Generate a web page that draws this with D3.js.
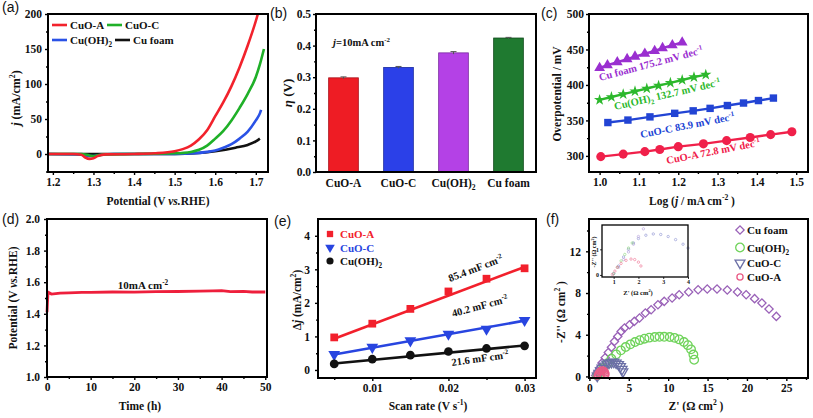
<!DOCTYPE html>
<html><head><meta charset="utf-8">
<script src="https://cdn.jsdelivr.net/npm/d3@7"></script>
<style>body{margin:0;background:#fff}svg{display:block}</style>
</head><body>
<script>
// ================= DATA =================
// (a) polarisation curves
const lsvPotCuOA = [1.19,1.25,1.27,1.28,1.29,1.30,1.31,1.33,1.40,1.45,1.50,1.52,1.54,1.56,1.58,1.60,1.62,1.64,1.66,1.68,1.70,1.705];
const lsvJCuOA   = [0,0,-1,-5,-7,-6,-3,-0.5,0,1,4,7,12,21,34,54,74,97,124,155,190,200];
const lsvPotCuOC = [1.19,1.27,1.29,1.30,1.31,1.33,1.40,1.50,1.54,1.56,1.58,1.60,1.62,1.64,1.66,1.68,1.70,1.71,1.72];
const lsvJCuOC   = [0,0,-2,-3,-2,-0.5,0,1,3,6,12,22,33,48,66,86,110,128,150];
const lsvPotCuOH = [1.19,1.27,1.29,1.30,1.32,1.35,1.50,1.55,1.58,1.60,1.62,1.64,1.66,1.68,1.70,1.71,1.713];
const lsvJCuOH   = [0,-1,-3,-3,-1,0,0,1,3,5,9,14,22,32,48,58,63];
const lsvPotFoam = [1.19,1.50,1.55,1.60,1.65,1.68,1.70,1.71];
const lsvJFoam   = [0,0,1,4,9,13,18,22];
const lsvXTicks = [1.2,1.3,1.4,1.5,1.6,1.7];
const lsvYTicks = [0,50,100,150,200];

// (b) overpotential bars
const barCats = ["CuO-A","CuO-C","Cu(OH)2","Cu foam"];
const barEta  = [0.298,0.331,0.377,0.424];
const barErr  = [0.003,0.003,0.004,0.002];
const barYTicks = [0,0.1,0.2,0.3,0.4,0.5];

// (c) Tafel
const tafCuOAx = [1.003,1.06,1.115,1.153,1.20,1.264,1.323,1.383,1.435,1.489];
const tafCuOAy = [299,302.5,306,309,313,317,321.5,326,330,334];
const tafCuOCx = [1.021,1.072,1.128,1.191,1.238,1.281,1.325,1.366,1.404,1.442];
const tafCuOCy = [347,350.5,355,360,363.5,367,371,374.5,378,381.5];
const tafCuOHx = [1.0,1.03,1.06,1.09,1.12,1.15,1.18,1.21,1.24,1.27];
const tafCuOHy = [379,383,387,391,395,399,403,407,411,414.5];
const tafFoamx = [1.0,1.02,1.045,1.07,1.09,1.115,1.14,1.16,1.185,1.21];
const tafFoamy = [424,428,432,436.5,440,444,448,452,456,460];
const tafLabels = ["Cu foam 175.2  mV dec^{-1}","Cu(OH)_{2} 132.7 mV dec^{-1}","CuO-C 83.9 mV dec^{-1}","CuO-A 72.8  mV dec^{-1}"];
const tafXTicks = [1.0,1.1,1.2,1.3,1.4,1.5];
const tafYTicks = [300,350,400,450,500];

// (d) stability
const stabT = [0,0.1,0.2,0.4,0.7,1,2,3,5,8,10,15,20,25,30,35,38,40,42,45,47,50];
const stabV = [1.41,1.47,1.52,1.535,1.53,1.525,1.528,1.531,1.533,1.535,1.536,1.538,1.537,1.540,1.541,1.543,1.545,1.546,1.540,1.542,1.538,1.538];
const stabXTicks = [0,10,20,30,40,50];
const stabYTicks = [1.0,1.2,1.4,1.6,1.8,2.0];

// (e) double-layer capacitance
const scanRate = [0.005,0.01,0.015,0.02,0.025,0.03];
const djCuOA = [0.97,1.38,1.82,2.34,2.72,3.03];
const djCuOC = [0.46,0.68,0.87,1.07,1.22,1.48];
const djCuOH = [0.18,0.32,0.44,0.55,0.64,0.72];
const fitX = [0.005,0.03];
const fitCuOA = [0.93,3.07];
const fitCuOC = [0.46,1.47];
const fitCuOH = [0.19,0.73];
const cdlLabels = ["85.4 mF cm^{-2}","40.2 mF cm^{-2}","21.6 mF cm^{-2}"];
const cdlXTicks = [0.01,0.02,0.03];
const cdlYTicks = [0,1,2,3,4];

// (f) Nyquist
const nyFoamRe = [0.8,1.0,1.3,1.6,2.0,2.4,2.8,3.18,3.6,4.03,4.45,5.1,5.7,6.36,7.1,7.84,8.7,9.5,10.5,11.4,12.6,13.8,14.96,16.2,17.5,18.8,19.9,20.97,21.9,22.8,23.73];
const nyFoamIm = [0.1,0.4,0.8,1.3,1.8,2.3,2.8,3.36,3.84,4.32,4.64,4.96,5.28,5.6,6.08,6.4,6.88,7.2,7.52,7.84,8.1,8.32,8.39,8.39,8.29,8.1,7.84,7.46,7.04,6.47,5.76];
const nyCuOHRe = [1.0,1.4,1.8,2.3,2.8,3.4,4.0,4.6,5.2,5.8,6.4,7.0,7.6,8.3,8.9,9.5,10.2,10.8,11.4,12.0,12.5,12.9,13.2,13.3];
const nyCuOHIm = [0.1,0.4,0.8,1.25,1.7,2.12,2.5,2.82,3.08,3.3,3.48,3.62,3.72,3.78,3.8,3.8,3.78,3.7,3.55,3.3,3.0,2.6,2.1,1.6];
const nyCuOCRe = [1.0,1.2,1.4,1.6,1.9,2.2,2.5,2.8,3.1,3.4,3.7,3.95,4.15,4.25];
const nyCuOCIm = [0.05,0.3,0.55,0.8,1.0,1.2,1.3,1.37,1.38,1.3,1.15,0.95,0.7,0.45];
const nyCuOARe = [1.0,1.1,1.25,1.4,1.6,1.8,1.95,2.05,2.1];
const nyCuOAIm = [0.05,0.25,0.42,0.55,0.62,0.6,0.5,0.35,0.2];
const insFoamRe = [1.0,1.2,1.4,1.6,1.8,2.0,2.2];
const insFoamIm = [0.05,0.3,0.6,0.9,1.2,1.5,1.8];
const insCuOHRe = [1.0,1.15,1.3,1.45,1.6,1.75];
const insCuOHIm = [0.05,0.3,0.55,0.8,1.05,1.25];
const insCuOCRe = [1.0,1.2,1.4,1.6,1.8,2.0,2.3,2.6,2.9,3.2,3.5,3.8,4.0];
const insCuOCIm = [0.05,0.35,0.7,1.0,1.25,1.42,1.55,1.6,1.58,1.5,1.38,1.2,1.05];
const insCuOARe = [0.95,1.05,1.15,1.3,1.5,1.7,1.85,2.0,2.1];
const insCuOAIm = [0.02,0.15,0.3,0.45,0.57,0.62,0.6,0.5,0.35];
const nyXTicks = [0,5,10,15,20,25];
const nyYTicks = [0,4,8,12];

// ================= DRAWING =================
const SERIF = "'Liberation Serif','Times New Roman',serif";
const SANS = "'Liberation Sans',Arial,sans-serif";
const svg = d3.select('body').append('svg').attr('width',813).attr('height',418);
svg.append('rect').attr('width',813).attr('height',418).attr('fill','#fff');

function rich(t, s, fs){
  t.text(null);
  const re = /([_^])\{([^}]*)\}|\*([^*]+)\*/g;
  let last=0, m, shift=0;
  const plain = (txt, italic) => { const ts=t.append('tspan').text(txt); if(italic) ts.attr('font-style','italic'); if(shift){ts.attr('dy',-shift); shift=0;} };
  while((m=re.exec(s))){
    if(m.index>last) plain(s.slice(last,m.index));
    if(m[3]!==undefined) plain(m[3], true);
    else { const d = m[1]==='^' ? -fs*0.4 : fs*0.28; t.append('tspan').text(m[2]).attr('font-size',fs*0.66).attr('dy', d-shift); shift=d; }
    last = re.lastIndex;
  }
  if(last<s.length) plain(s.slice(last));
}
function label(x,y,s,o={}){
  const fs=o.fs||12;
  const t=svg.append('text').attr('transform',`translate(${x},${y}) rotate(${o.rot||0})`)
    .attr('text-anchor',o.anchor||'middle').attr('font-family',o.family||SERIF)
    .attr('font-weight',o.weight||'bold').attr('font-size',fs).attr('fill',o.fill||'#111');
  rich(t,s,fs); return t;
}
function axes(box,x,y,o){
  const g=svg.append('g');
  if(o.xt){
    g.append('g').attr('transform',`translate(0,${box.y1})`)
     .call(d3.axisBottom(x).tickValues(o.xt).tickFormat(o.xf).tickSizeInner(o.xts===undefined?3:o.xts).tickSizeOuter(0).tickPadding(o.xpad||3));
  }
  if(o.xm) g.append('g').attr('transform',`translate(0,${box.y1})`).call(d3.axisBottom(x).tickValues(o.xm).tickFormat('').tickSizeInner(2).tickSizeOuter(0));
  g.append('g').attr('transform',`translate(${box.x0},0)`)
   .call(d3.axisLeft(y).tickValues(o.yt).tickFormat(o.yf).tickSizeInner(o.yts===undefined?3:o.yts).tickSizeOuter(0).tickPadding(o.ypad||2));
  if(o.ym) g.append('g').attr('transform',`translate(${box.x0},0)`).call(d3.axisLeft(y).tickValues(o.ym).tickFormat('').tickSizeInner(2).tickSizeOuter(0));
  g.selectAll('.domain').remove();
  g.selectAll('.tick line').attr('stroke','#000').attr('stroke-width',o.tw||1.4);
  g.selectAll('.tick text').attr('font-family',SERIF).attr('font-weight','bold').attr('font-size',o.fs||11.5).attr('fill','#111');
  return g;
}
function frame(box,w){
  svg.append('rect').attr('x',box.x0).attr('y',box.y0).attr('width',box.x1-box.x0).attr('height',box.y1-box.y0)
    .attr('fill','none').attr('stroke','#000').attr('stroke-width',w||2);
}
const zip=(a,b)=>a.map((v,i)=>[v,b[i]]);
const chem = s => s.replace(/\)(\d)/g,')_{$1}');
function minor(a,b,step){const r=[];for(let v=a;v<=b+1e-9;v+=step)r.push(+v.toFixed(6));return r;}

// ---------- (a) ----------
{
  const box={x0:48,x1:268,y0:14,y1:172};
  const x=d3.scaleLinear().domain([1.188,1.73]).range([box.x0,box.x1]);
  const y=d3.scaleLinear().domain([-25.7,200]).range([box.y1,box.y0]);
  axes(box,x,y,{xt:lsvXTicks,xf:d3.format('.1f'),xm:minor(1.25,1.65,0.1),yt:lsvYTicks,yf:d3.format('d'),ym:minor(-25,175,50),ypad:3});
  const line=d3.line().x(d=>x(d[0])).y(d=>y(d[1])).curve(d3.curveMonotoneX);
  const ser=[[lsvPotFoam,lsvJFoam,'#111'],[lsvPotCuOH,lsvJCuOH,'#2a52e6'],[lsvPotCuOC,lsvJCuOC,'#1fb028'],[lsvPotCuOA,lsvJCuOA,'#f2222c']];
  ser.forEach(s=>svg.append('path').attr('d',line(zip(s[0],s[1]))).attr('fill','none').attr('stroke',s[2]).attr('stroke-width',2.6));
  frame(box);
  const leg=[['CuO-A','#f2222c',52,25],['CuO-C','#1fb028',107,25],['Cu(OH)2','#2a52e6',52,40],['Cu foam','#111',115,40]];
  leg.forEach(l=>{svg.append('line').attr('x1',l[2]).attr('x2',l[2]+15).attr('y1',l[3]).attr('y2',l[3]).attr('stroke',l[1]).attr('stroke-width',2.6);
    label(l[2]+18,l[3]+4,chem(l[0]),{anchor:'start',fs:11});});
  label(158,205,'Potential (V *vs.*RHE)',{fs:11.5});
  label(20,98,'*j* (mA/cm^{2})',{rot:-90,fs:12});
  label(2,12,'(a)',{anchor:'start',family:SANS,weight:'normal',fs:14});
}
// ---------- (b) ----------
{
  const box={x0:316,x1:536,y0:14,y1:172};
  const x=d3.scaleBand().domain(barCats).range([box.x0,box.x1]).paddingInner(0.46).paddingOuter(0.23);
  const y=d3.scaleLinear().domain([0,0.5]).range([box.y1,box.y0]);
  const barCol=['#ee1c24','#2b40e8','#b441e6','#1f7a30'];
  const barStroke=['#a8101a','#1a2aa0','#7a2aa0','#0f4a1a'];
  barCats.forEach((c,i)=>{
    svg.append('rect').attr('x',x(c)).attr('y',y(barEta[i])).attr('width',x.bandwidth()).attr('height',y(0)-y(barEta[i]))
      .attr('fill',barCol[i]).attr('stroke',barStroke[i]).attr('stroke-width',0.8);
    const cx=x(c)+x.bandwidth()/2;
    svg.append('line').attr('x1',cx).attr('x2',cx).attr('y1',y(barEta[i]+barErr[i])).attr('y2',y(barEta[i]-barErr[i])).attr('stroke','#555').attr('stroke-width',1);
    svg.append('line').attr('x1',cx-3).attr('x2',cx+3).attr('y1',y(barEta[i]+barErr[i])).attr('y2',y(barEta[i]+barErr[i])).attr('stroke','#555').attr('stroke-width',1);
  });
  const g=axes(box,x,y,{xt:barCats,xf:d=>d,xts:0,xpad:7,yt:barYTicks,yf:d3.format('.1f'),ym:minor(0.05,0.45,0.1)});
  g.selectAll('.tick text').filter(d=>typeof d==='string').each(function(d){rich(d3.select(this),chem(d),11.5);});
  frame(box);
  label(333,46,'*j*=10mA cm^{-2}',{anchor:'start',fs:10.5});
  label(292,93,'*η* (V)',{rot:-90,fs:13});
  label(270,18,'(b)',{anchor:'start',family:SANS,weight:'normal',fs:14});
}
// ---------- (c) ----------
{
  const box={x0:589,x1:808,y0:14,y1:172};
  const x=d3.scaleLinear().domain([0.973,1.53]).range([box.x0,box.x1]);
  const y=d3.scaleLinear().domain([277.3,500]).range([box.y1,box.y0]);
  axes(box,x,y,{xt:tafXTicks,xf:d3.format('.1f'),xm:minor(1.05,1.45,0.1),yt:tafYTicks,yf:d3.format('d'),ym:minor(325,475,50)});
  const line=d3.line().x(d=>x(d[0])).y(d=>y(d[1]));
  const ser=[
    [tafFoamx,tafFoamy,'#9a2fd0',d3.symbolTriangle,50],
    [tafCuOHx,tafCuOHy,'#2cb82c',d3.symbolStar,40],
    [tafCuOCx,tafCuOCy,'#2244d4',d3.symbolSquare,55],
    [tafCuOAx,tafCuOAy,'#f0204a',d3.symbolCircle,65]];
  ser.forEach(s=>{
    const pts=zip(s[0],s[1]);
    svg.append('path').attr('d',line(pts)).attr('fill','none').attr('stroke',s[2]).attr('stroke-width',2.4);
    svg.selectAll(null).data(pts).enter().append('path').attr('d',d3.symbol().type(s[3]).size(s[4]))
      .attr('transform',d=>`translate(${x(d[0])},${y(d[1])})`).attr('fill',s[2]);
  });
  frame(box);
  label(600,81,tafLabels[0],{anchor:'start',rot:-15,fs:10.5,fill:'#9a2fd0'});
  label(615,110,tafLabels[1],{anchor:'start',rot:-13,fs:10.5,fill:'#2cb82c'});
  label(641,138,tafLabels[2],{anchor:'start',rot:-11,fs:10.5,fill:'#2244d4'});
  label(667,164,tafLabels[3],{anchor:'start',rot:-11,fs:10.5,fill:'#f0204a'});
  label(692,205,'Log (*j* / mA cm^{-2} )',{fs:11.5});
  label(561,94,'Overpotential / mV',{rot:-90,fs:11.5});
  label(541,18,'(c)',{anchor:'start',family:SANS,weight:'normal',fs:14});
}
// ---------- (d) ----------
{
  const box={x0:47,x1:267,y0:219,y1:377};
  const x=d3.scaleLinear().domain([0,50.4]).range([box.x0,box.x1]);
  const y=d3.scaleLinear().domain([1.0,2.0]).range([box.y1,box.y0]);
  axes(box,x,y,{xt:stabXTicks,xf:d3.format('d'),xm:minor(5,45,10),yt:stabYTicks,yf:d3.format('.1f'),ym:minor(1.1,1.9,0.2),ypad:4});
  const line=d3.line().x(d=>x(d[0])).y(d=>y(d[1]));
  svg.append('path').attr('d',line(zip(stabT,stabV))).attr('fill','none').attr('stroke','#ee1f3c').attr('stroke-width',2.8);
  frame(box);
  label(143,289,'10mA cm^{-2}',{fs:11});
  label(140,410,'Time (h)',{fs:11.5});
  label(17,298,'Potential (V *vs.*RHE)',{rot:-90,fs:11.5});
  label(2,224,'(d)',{anchor:'start',family:SANS,weight:'normal',fs:14});
}
// ---------- (e) ----------
{
  const box={x0:318,x1:536,y0:219,y1:378};
  const x=d3.scaleLinear().domain([0.00287,0.0315]).range([box.x0,box.x1]);
  const y=d3.scaleLinear().domain([-0.24,4.5]).range([box.y1,box.y0]);
  axes(box,x,y,{xt:cdlXTicks,xf:d3.format('.2f'),xm:[0.005,0.015,0.025],yt:cdlYTicks,yf:d3.format('d'),ym:minor(0.5,3.5,1),ypad:5});
  const line=d3.line().x(d=>x(d[0])).y(d=>y(d[1]));
  const ser=[
    [djCuOA,fitCuOA,'#f2202c',d3.symbolSquare,60,0],
    [djCuOC,fitCuOC,'#2845e0',d3.symbolTriangle,60,180],
    [djCuOH,fitCuOH,'#111',d3.symbolCircle,60,0]];
  ser.forEach(s=>{
    svg.append('path').attr('d',line(zip(fitX,s[1]))).attr('fill','none').attr('stroke',s[2]).attr('stroke-width',2.6);
    svg.selectAll(null).data(zip(scanRate,s[0])).enter().append('path').attr('d',d3.symbol().type(s[3]).size(s[4]))
      .attr('transform',d=>`translate(${x(d[0])},${y(d[1])}) rotate(${s[5]})`).attr('fill',s[2]);
  });
  frame(box);
  const legNames=['CuO-A','CuO-C','Cu(OH)2'];
  ser.forEach((s,i)=>{
    const ly=[234,247.5,261][i];
    svg.append('path').attr('d',d3.symbol().type(s[3]).size(40)).attr('transform',`translate(330,${ly}) rotate(${s[5]})`).attr('fill',s[2]);
    label(340,ly+4,chem(legNames[i]),{anchor:'start',fs:11,fill:s[2]});
  });
  label(450,282,cdlLabels[0],{anchor:'start',rot:-21,fs:10.5});
  label(453,317,cdlLabels[1],{anchor:'start',rot:-15,fs:10.5});
  label(452,366,cdlLabels[2],{anchor:'start',rot:-8,fs:10.5});
  label(428,410,'Scan rate (V s^{-1})',{fs:11.5});
  label(301,300,'Δ*j* (mA/cm^{2})',{rot:-90,fs:11.5});
  label(274,226,'(e)',{anchor:'start',family:SANS,weight:'normal',fs:14});
}
// ---------- (f) ----------
{
  const box={x0:589,x1:808,y0:219,y1:378};
  const x=d3.scaleLinear().domain([-0.05,27.75]).range([box.x0,box.x1]);
  const y=d3.scaleLinear().domain([-0.15,15.1]).range([box.y1,box.y0]);
  axes(box,x,y,{xt:nyXTicks,xf:d3.format('d'),xm:minor(2.5,27.5,5),yt:nyYTicks,yf:d3.format('d'),ym:minor(2,14,4),ypad:5});
  const diamond=d3.symbol().type(d3.symbolSquare).size(34);
  const circ=d3.symbol().type(d3.symbolCircle).size(58);
  const tri=d3.symbol().type(d3.symbolTriangle).size(42);
  const ser=[
    [nyFoamRe,nyFoamIm,'#9a62b8',diamond,45],
    [nyCuOHRe,nyCuOHIm,'#6fd35a',circ,0],
    [nyCuOCRe,nyCuOCIm,'#6b6fa6',tri,180],
    [nyCuOARe,nyCuOAIm,'#ea5c86',d3.symbol().type(d3.symbolCircle).size(30),0]];
  ser.forEach(s=>{
    svg.selectAll(null).data(zip(s[0],s[1])).enter().append('path').attr('d',s[3])
      .attr('transform',d=>`translate(${x(d[0])},${y(d[1])}) rotate(${s[4]})`)
      .attr('fill','none').attr('stroke',s[2]).attr('stroke-width',1.3);
  });
  frame(box);
  // legend
  const legNames=['Cu foam','Cu(OH)2','CuO-C','CuO-A'];
  const legY=[230,247.5,263,277];
  ser.forEach((s,i)=>{
    svg.append('path').attr('d',s[3]).attr('transform',`translate(740,${legY[i]}) rotate(${s[4]})`).attr('fill','none').attr('stroke',s[2]).attr('stroke-width',1.3);
    label(747,legY[i]+4,chem(legNames[i]),{anchor:'start',fs:11});
  });
  // inset
  const ib={x0:602,x1:688,y0:225,y1:277};
  svg.append('rect').attr('x',ib.x0).attr('y',ib.y0).attr('width',ib.x1-ib.x0).attr('height',ib.y1-ib.y0).attr('fill','#fff');
  const ix=d3.scaleLinear().domain([0.53,4]).range([ib.x0,ib.x1]);
  const iy=d3.scaleLinear().domain([-0.08,1.95]).range([ib.y1,ib.y0]);
  const iser=[
    [insCuOCRe,insCuOCIm,'#8a8fd0'],
    [insFoamRe,insFoamIm,'#b09ad8'],
    [insCuOHRe,insCuOHIm,'#8ed880'],
    [insCuOARe,insCuOAIm,'#ee6e90']];
  iser.forEach(s=>{
    svg.selectAll(null).data(zip(s[0],s[1])).enter().append('circle')
      .attr('cx',d=>ix(d[0])).attr('cy',d=>iy(d[1])).attr('r',1.2)
      .attr('fill','none').attr('stroke',s[2]).attr('stroke-width',0.8).attr('opacity',0.75);
  });
  axes(ib,ix,iy,{xt:[1,2,3,4],xf:d3.format('d'),xts:2,xpad:1,yt:[0,1],yf:d3.format('d'),yts:2,ypad:1,tw:0.8,fs:6});
  frame(ib,1.3);
  label(638,295,"Z' (Ω cm^{2})",{fs:6.5});
  label(596,252,"-Z'' (Ω cm^{2})",{rot:-90,fs:6});
  label(696,410,"Z' (Ω  cm^{2} )",{fs:11.5});
  label(565,312,"-Z'' (Ω  cm^{2} )",{rot:-90,fs:11.5});
  label(546,224,'(f)',{anchor:'start',family:SANS,weight:'normal',fs:14});
}
</script>
</body></html>
